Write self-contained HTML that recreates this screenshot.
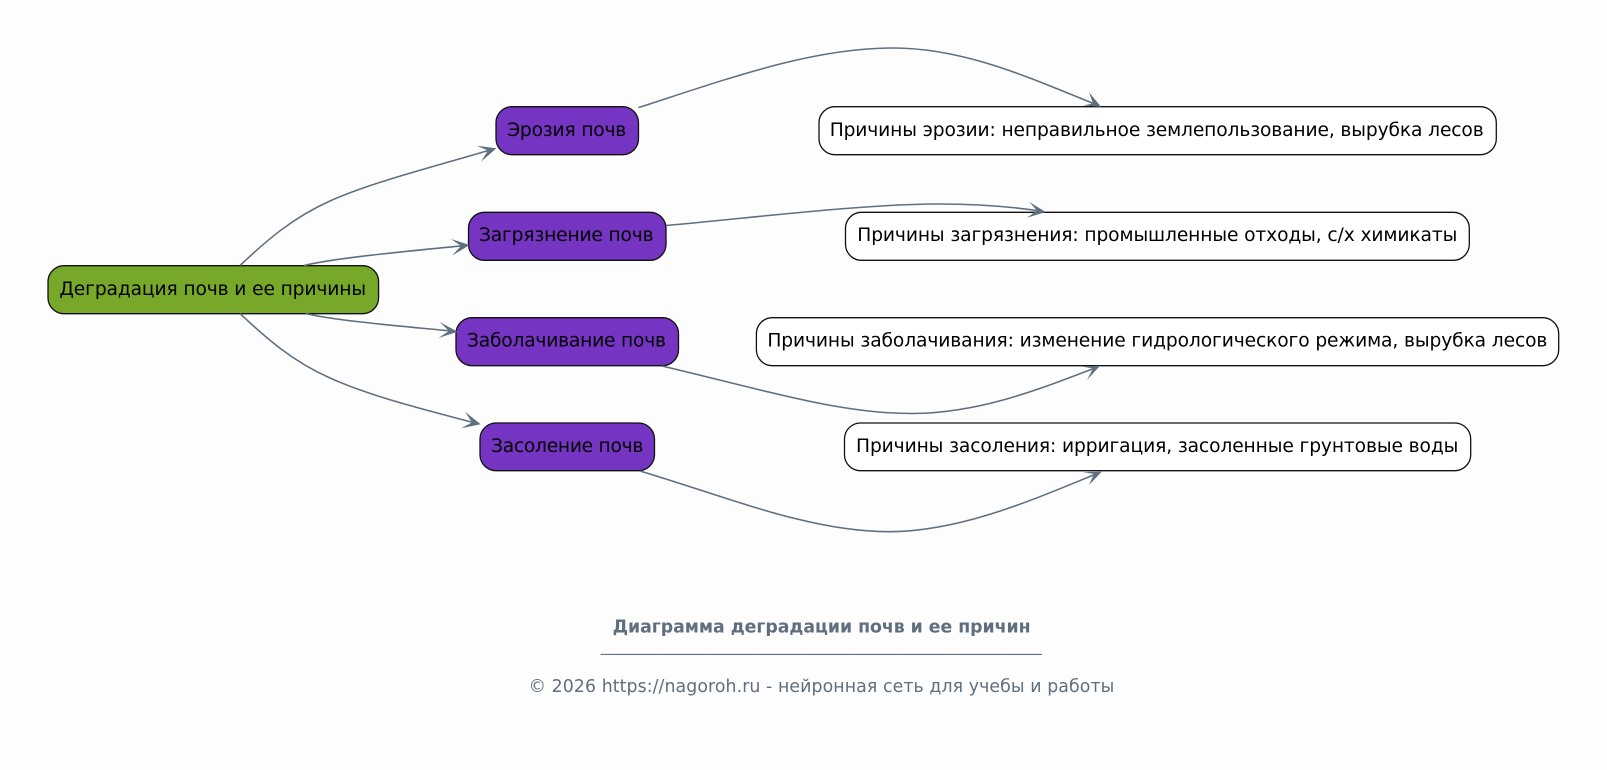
<!DOCTYPE html>
<html><head><meta charset="utf-8"><style>
html,body{margin:0;padding:0;background:#fdfdfd}
svg{display:block}
text{font-family:"DejaVu Sans",sans-serif}
.n{font-size:18.67px;fill:#000;text-anchor:middle}
.e{fill:none;stroke:#5f6f7f;stroke-width:1.55}
.a{fill:#5f6f7f;stroke:none}
.b{stroke:#111;stroke-width:1.3}
.f{fill:#5f6f7f;text-anchor:middle}
</style></head><body>
<svg width="1607" height="770" viewBox="0 0 1607 770" xmlns="http://www.w3.org/2000/svg">
<rect width="1607" height="770" fill="#fdfdfd"/>
<rect class="b" x="48" y="265.7" width="330.6" height="48" rx="16" fill="#77a829"/>
<rect class="b" x="496" y="106.7" width="142.5" height="48" rx="16" fill="#7534c1"/>
<rect class="b" x="468.5" y="212.3" width="197.5" height="48" rx="16" fill="#7534c1"/>
<rect class="b" x="456" y="317.7" width="222.5" height="48" rx="16" fill="#7534c1"/>
<rect class="b" x="480" y="423" width="174.5" height="47.7" rx="16" fill="#7534c1"/>
<rect class="b" x="819" y="106.7" width="677.3" height="48" rx="16" fill="#fff"/>
<rect class="b" x="845.5" y="212.3" width="623.8" height="48" rx="16" fill="#fff"/>
<rect class="b" x="756.4" y="317.7" width="802.3" height="48" rx="16" fill="#fff"/>
<rect class="b" x="844.5" y="423" width="626.2" height="47.7" rx="16" fill="#fff"/>

<path class="e" d="M240,265.5 C266,241 292,218 330,201 C372,182 440,165 490,150"/>
<path class="a" d="M496.4,148.3 L476.8,145.7 L488,150.5 L481,161.7 Z"/>
<path class="e" d="M304,265.5 C335,258 400,252 463,245.7"/>
<path class="a" d="M469.6,245 L451,239 L461,246 L452,255.7 Z"/>
<path class="e" d="M306,313.6 C338,321 400,326 451,331"/>
<path class="a" d="M457.6,331.7 L439.7,322 L449,331 L438.4,338 Z"/>
<path class="e" d="M240,313.6 C266,338 292,361 330,378 C372,397 430,411 475,423"/>
<path class="a" d="M480.7,424.3 L465,411.7 L472,422.5 L461,428.3 Z"/>

<path class="e" d="M638.5,107.6 C730,78 812,48 893,48 C965,48 1030,78 1096,104.5"/>
<path class="a" d="M1101,106.7 L1089,92.3 L1093,103.5 L1083,105.5 Z"/>
<path class="e" d="M666,225.5 C760,217 860,204.5 935,204 C975,203.8 1010,206.5 1040,211"/>
<path class="a" d="M1045.7,212 L1029,201.7 L1037,210.5 L1027,217.7 Z"/>
<path class="e" d="M662,366 C760,389 840,414 913,413.5 C980,413 1040,389 1095,368"/>
<path class="a" d="M1100,365.7 L1082,366.5 L1093,368.5 L1087,380 Z"/>
<path class="e" d="M640,471 C730,498 810,531.5 888,531.7 C960,532 1035,499 1096,474"/>
<path class="a" d="M1101.7,471.7 L1083,472 L1094,474 L1089,485 Z"/>

<text class="n" x="212.7" y="295" textLength="306.7">Деградация почв и ее причины</text>
<text class="n" x="566.7" y="136" textLength="119.2">Эрозия почв</text>
<text class="n" x="566.3" y="241" textLength="174.6">Загрязнение почв</text>
<text class="n" x="566.5" y="346.7" textLength="199">Заболачивание почв</text>
<text class="n" x="567.2" y="452" textLength="152.3">Засоление почв</text>
<text class="n" x="1156.7" y="136" textLength="654">Причины эрозии: неправильное землепользование, вырубка лесов</text>
<text class="n" x="1157.3" y="241" textLength="600">Причины загрязнения: промышленные отходы, с/х химикаты</text>
<text class="n" x="1157.4" y="346.7" textLength="780">Причины заболачивания: изменение гидрологического режима, вырубка лесов</text>
<text class="n" x="1157.2" y="452" textLength="602.3">Причины засоления: ирригация, засоленные грунтовые воды</text>

<text class="f" x="821.6" y="632.5" font-size="17.33" font-weight="bold" textLength="418">Диаграмма деградации почв и ее причин</text>
<text class="f" x="821.3" y="651" font-size="16" textLength="441" lengthAdjust="spacingAndGlyphs">______________________________________________________</text>
<text class="f" x="821.5" y="692" font-size="17.33" textLength="585.7">© 2026 https://nagoroh.ru - нейронная сеть для учебы и работы</text>
</svg>
</body></html>
